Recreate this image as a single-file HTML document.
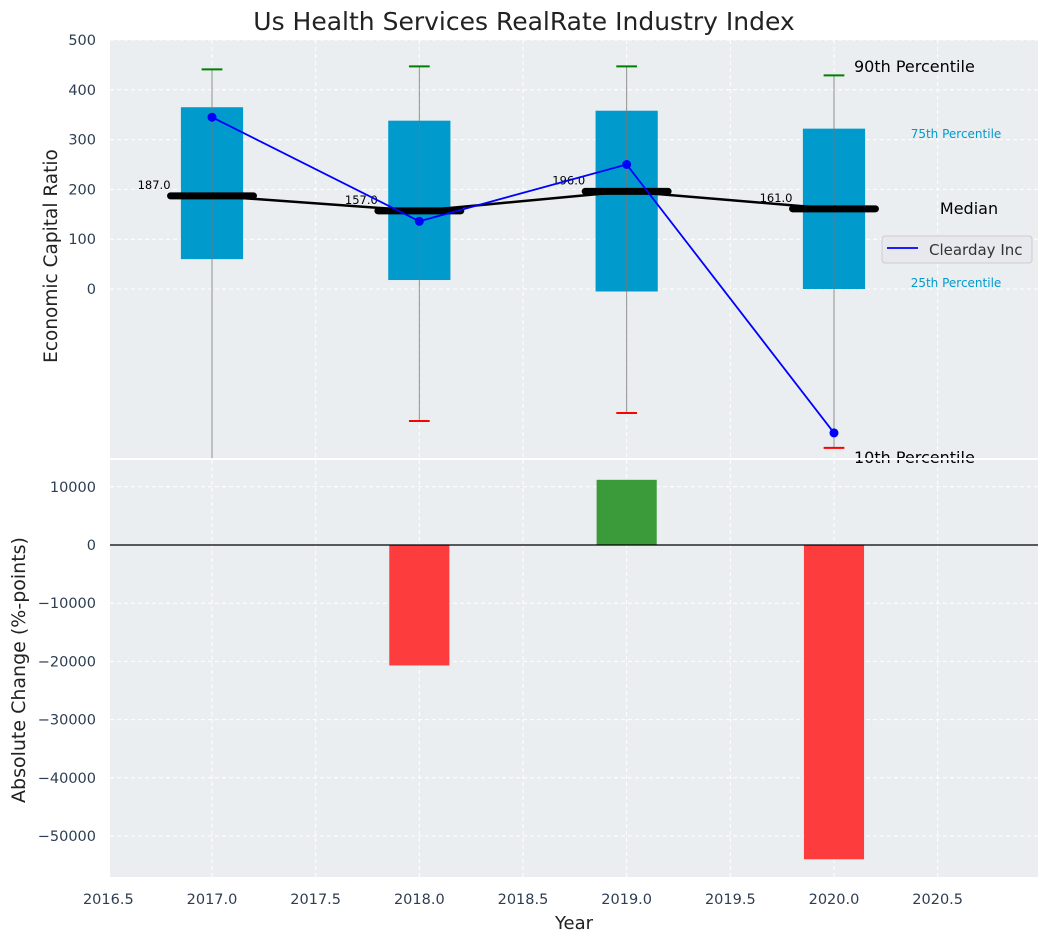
<!DOCTYPE html>
<html><head><meta charset="utf-8"><style>
body{margin:0;background:#fff;font-family:"Liberation Sans","DejaVu Sans",sans-serif}
svg{display:block}
</style></head><body>
<svg id="chart" width="1048" height="942" font-family="DejaVu Sans, Liberation Sans, sans-serif"></svg>
<script>
const years=[2017,2018,2019,2020];
const p10=[-400,-265,-249,-319];
const p25=[60,18,-5,0];
const medians=[187,157,196,161];
const p75=[365,338,358,322];
const p90=[441,447,447,429];
const company=[345,136,250,-289];
const changes=[0,-20700,11200,-54000];
const xTicks=[2016.5,2017,2017.5,2018,2018.5,2019,2019.5,2020,2020.5];
const yTicksTop=[0,100,200,300,400,500];
const yTicksBot=[10000,0,-10000,-20000,-30000,-40000,-50000];

const NS="http://www.w3.org/2000/svg";
const svg=document.getElementById('chart');
function mk(tag,attrs,parent,text){const e=document.createElementNS(NS,tag);for(const k in attrs)e.setAttribute(k,attrs[k]);if(text!==undefined)e.textContent=text;(parent||svg).appendChild(e);return e;}
const L=110,R=1038;
const x=v=>212+(v-2017)*207.33;
const T0=40,T1=458,yT=v=>289-v*0.498;
const B0=460,B1=877,yB=v=>545-v*0.00582;

let e=mk('rect',{x:L,y:T0,width:R-L,height:T1-T0,fill:'#eaeef0'});

e=mk('rect',{x:L,y:B0,width:R-L,height:B1-B0,fill:'#eaeef0'});


xTicks.forEach(t=>{[[T0,T1],[B0,B1]].forEach(([a,b])=>{const g=mk('line',{x1:x(t),x2:x(t),y1:a,y2:b,stroke:'#fff','stroke-dasharray':'4,3','stroke-width':1});});});
yTicksTop.forEach(t=>{const g=mk('line',{x1:L,x2:R,y1:yT(t),y2:yT(t),stroke:'#fff','stroke-dasharray':'4,3'});
const l=mk('text',{x:L-14,y:yT(t)+5,'text-anchor':'end','font-size':14.5,fill:'#2e3e52'},svg,String(t));});
yTicksBot.forEach(t=>{const g=mk('line',{x1:L,x2:R,y1:yB(t),y2:yB(t),stroke:'#fff','stroke-dasharray':'4,3'});
const l=mk('text',{x:L-14,y:yB(t)+5,'text-anchor':'end','font-size':14.5,fill:'#2e3e52'},svg,(t<0?'\u2212':'')+Math.abs(t));});
xTicks.forEach(t=>{const l=mk('text',{x:x(t),y:904,'text-anchor':'middle','font-size':14.5,fill:'#2e3e52'},svg,t.toFixed(1));});

const defs=mk('defs',{});const cp=mk('clipPath',{id:'ct'},defs);mk('rect',{x:L,y:T0,width:R-L,height:T1-T0},cp);
const gT=mk('g',{'clip-path':'url(#ct)'});
const hw=0.15, mw=0.2;
years.forEach((yr,i)=>{
  const b=mk('rect',{x:x(yr-hw),y:yT(p75[i]),width:x(yr+hw)-x(yr-hw),height:yT(p25[i])-yT(p75[i]),fill:'#009acd'},gT);
  
  const w=mk('line',{x1:x(yr),x2:x(yr),y1:yT(p90[i]),y2:yT(p10[i]),stroke:'#777','stroke-width':1,opacity:0.8},gT);
  
  const c1=mk('line',{x1:x(yr-0.05),x2:x(yr+0.05),y1:yT(p90[i]),y2:yT(p90[i]),stroke:'green','stroke-width':2},gT);
  
  const c2=mk('line',{x1:x(yr-0.05),x2:x(yr+0.05),y1:yT(p10[i]),y2:yT(p10[i]),stroke:'red','stroke-width':2},gT);
  
});
let pts=years.map((yr,i)=>x(yr)+','+yT(medians[i])).join(' ');
e=mk('polyline',{points:pts,fill:'none',stroke:'#000','stroke-width':2.5},gT);
years.forEach((yr,i)=>{
  const m=mk('line',{x1:x(yr-mw),x2:x(yr+mw),y1:yT(medians[i]),y2:yT(medians[i]),stroke:'#000','stroke-width':7,'stroke-linecap':'round'},gT);
  
  const t=mk('text',{x:x(yr-mw),y:yT(medians[i])-7,'text-anchor':'end','font-size':11.5,fill:'#000'},gT,medians[i].toFixed(1));
  
});
pts=years.map((yr,i)=>x(yr)+','+yT(company[i])).join(' ');
e=mk('polyline',{points:pts,fill:'none',stroke:'blue','stroke-width':1.8},gT);
years.forEach((yr,i)=>{const d=mk('circle',{cx:x(yr),cy:yT(company[i]),r:4.5,fill:'blue'},gT);});
const lx=x(2020)+20;
[['90th Percentile',lx,72,16,'#000','start'],['75th Percentile',956,138,12,'#009acd','middle'],['Median',969,214,16,'#000','middle'],['25th Percentile',956,287,12,'#009acd','middle']].forEach(a=>{
  const t=mk('text',{x:a[1],y:a[2],'font-size':a[3],fill:a[4],'text-anchor':a[5]},svg,a[0]);});
const t10=mk('text',{x:lx,y:463,'font-size':16,fill:'#000'},svg,'10th Percentile');
mk('rect',{x:L,y:T1,width:R-L,height:2,fill:'#fff'});
const lg=mk('g',{});
mk('rect',{x:882,y:236,width:150,height:27,rx:3,fill:'#e8e9ef',stroke:'#ccc'},lg);
mk('line',{x1:887,x2:918,y1:248,y2:248,stroke:'blue','stroke-width':1.8},lg);
mk('text',{x:929,y:255,'font-size':15,fill:'#333'},lg,'Clearday Inc');

years.forEach((yr,i)=>{if(!changes[i])return;const v=changes[i];
  const b=mk('rect',{x:x(yr-0.145),y:Math.min(yB(0),yB(v)),width:x(yr+0.145)-x(yr-0.145),height:Math.abs(yB(v)-yB(0)),fill:v>0?'#3b9b3b':'#fd3d3d'});
  });
e=mk('line',{x1:L,x2:R,y1:yB(0),y2:yB(0),stroke:'#000','stroke-width':1.2});

[['Us Health Services RealRate Industry Index',524,30,25,0,'chart-title'],['Year',574,929,18,0,'x-axis-title']].forEach(a=>{const t=mk('text',{x:a[1],y:a[2],'font-size':a[3],'text-anchor':'middle',fill:'#222'},svg,a[0]);});
let ta=mk('text',{x:0,y:0,'font-size':18.5,'text-anchor':'middle',fill:'#222',transform:'translate(57,256) rotate(-90)'},svg,'Economic Capital Ratio');
ta=mk('text',{x:0,y:0,'font-size':19,'text-anchor':'middle',fill:'#222',transform:'translate(25,670) rotate(-90)'},svg,'Absolute Change (%-points)');
</script>
</body></html>
